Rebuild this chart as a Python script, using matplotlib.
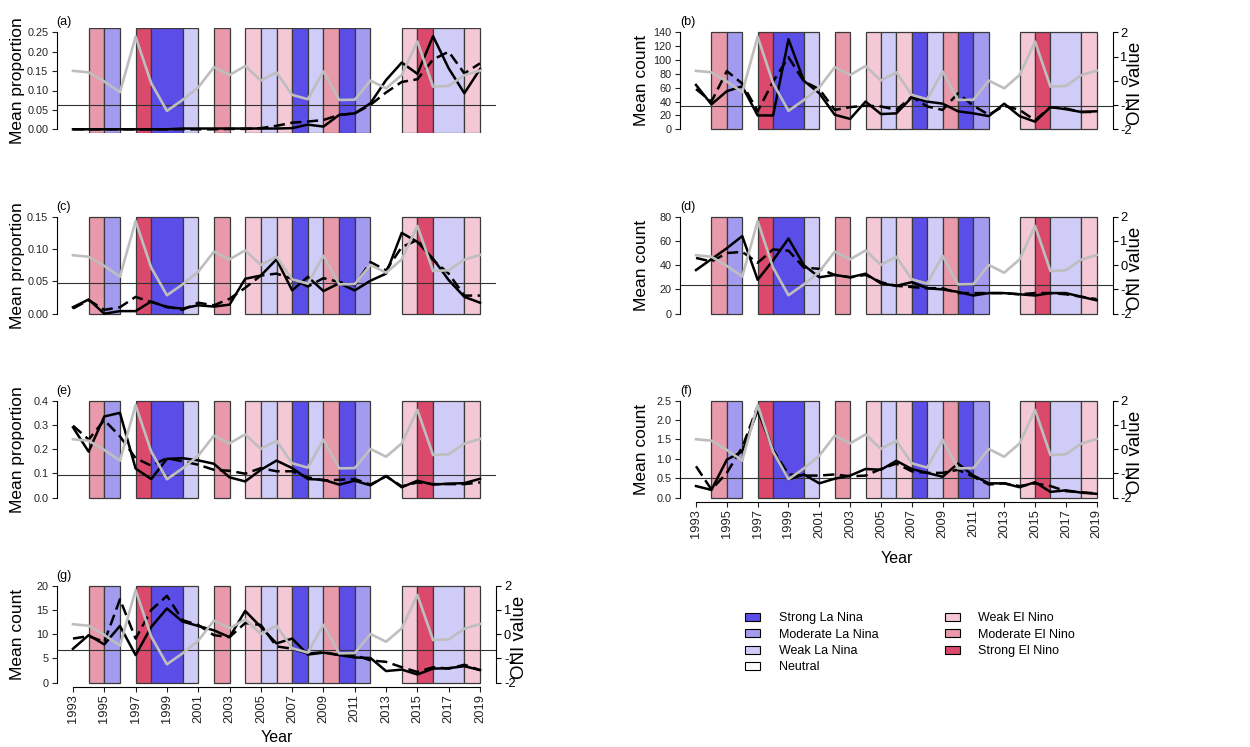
import numpy as np
import matplotlib
matplotlib.use("Agg")
from matplotlib import pyplot as plt
from matplotlib.patches import Patch

plt.rcParams['font.family'] = ['Liberation Sans', 'DejaVu Sans']

years = np.arange(1993, 2020)

# ENSO phase for each year, the band runs from year to year+1 (1993..2018)
enso_phase = ['Neutral', 'Moderate El Nino', 'Moderate La Nina', 'Neutral', 'Strong El Nino',
              'Strong La Nina', 'Strong La Nina', 'Weak La Nina', 'Neutral', 'Moderate El Nino',
              'Neutral', 'Weak El Nino', 'Weak La Nina', 'Weak El Nino', 'Strong La Nina',
              'Weak La Nina', 'Moderate El Nino', 'Strong La Nina', 'Moderate La Nina', 'Neutral',
              'Neutral', 'Weak El Nino', 'Strong El Nino', 'Weak La Nina', 'Weak La Nina',
              'Weak El Nino']

oni = [0.41, 0.35, -0.03, -0.47, 1.82, -0.10, -1.24, -0.79, -0.27, 0.56, 0.24, 0.61, 0.01,
       0.35, -0.58, -0.76, 0.39, -0.79, -0.78, 0.01, -0.31, 0.24, 1.62, -0.24, -0.21, 0.23, 0.42]

# (a) mean proportion
a_obs = [0.0, 0.0, 0.0, 0.0, 0.0, 0.0, 0.0, 0.002, 0.002, 0.002, 0.002, 0.002, 0.002, 0.002,
         0.003, 0.012, 0.007, 0.037, 0.041, 0.067, 0.127, 0.172, 0.143, 0.240, 0.157, 0.093, 0.155]
a_fit = [0.0, 0.0, 0.0, 0.0, 0.0, 0.0, 0.0, 0.0, 0.0, 0.0, 0.001, 0.001, 0.003, 0.009,
         0.017, 0.020, 0.024, 0.037, 0.041, 0.063, 0.095, 0.122, 0.129, 0.180, 0.200, 0.144, 0.170]
# (b) mean count
b_obs = [64, 36, 55, 62, 20, 20, 130, 70, 52, 21, 15, 40, 22, 23, 46, 40, 37, 26, 23, 19,
         37, 19, 11, 32, 29, 25, 26]
b_fit = [58, 40, 84, 66, 26, 69, 104, 69, 58, 28, 32, 34, 33, 28, 47, 33, 28, 52, 34, 21,
         34, 28, 13, 32, 30, 25, 25]
# (c) mean proportion
c_obs = [0.010, 0.022, 0.0, 0.004, 0.004, 0.019, 0.010, 0.008, 0.013, 0.011, 0.014, 0.054,
         0.059, 0.084, 0.036, 0.057, 0.035, 0.047, 0.036, 0.051, 0.062, 0.125, 0.111, 0.085,
         0.052, 0.026, 0.017]
c_fit = [0.008, 0.021, 0.006, 0.010, 0.026, 0.018, 0.011, 0.006, 0.017, 0.013, 0.023, 0.040,
         0.059, 0.062, 0.054, 0.042, 0.055, 0.049, 0.044, 0.080, 0.067, 0.103, 0.114, 0.083,
         0.062, 0.028, 0.028]
# (d) mean count
d_obs = [36, 45, 54, 64, 28, 44, 62, 40, 30, 32, 30, 33, 25, 23, 26, 21, 20, 18, 15, 17,
         17, 16, 15, 17, 17, 14, 11]
d_fit = [46, 43, 50, 51, 42, 53, 52, 38, 37, 32, 30, 32, 26, 23, 22, 21, 21, 17, 17, 17,
         17, 16, 17, 17, 16, 14, 12]
# (e) mean proportion
e_obs = [0.290, 0.190, 0.335, 0.350, 0.120, 0.077, 0.160, 0.163, 0.154, 0.140, 0.084, 0.067,
         0.115, 0.153, 0.122, 0.077, 0.074, 0.054, 0.070, 0.051, 0.090, 0.043, 0.070, 0.054,
         0.058, 0.060, 0.078]
e_fit = [0.297, 0.240, 0.320, 0.253, 0.163, 0.132, 0.163, 0.150, 0.136, 0.115, 0.111, 0.099,
         0.122, 0.109, 0.109, 0.084, 0.071, 0.074, 0.077, 0.054, 0.088, 0.047, 0.063, 0.056,
         0.056, 0.056, 0.063]
# (f) mean count
f_obs = [0.30, 0.20, 0.98, 1.19, 2.25, 1.23, 0.47, 0.60, 0.37, 0.49, 0.57, 0.74, 0.72, 0.95,
         0.74, 0.64, 0.54, 0.88, 0.57, 0.37, 0.37, 0.27, 0.40, 0.15, 0.19, 0.13, 0.10]
f_fit = [0.81, 0.21, 0.64, 1.30, 2.36, 1.23, 0.60, 0.57, 0.57, 0.60, 0.55, 0.57, 0.74, 0.88,
         0.68, 0.64, 0.64, 0.72, 0.54, 0.34, 0.37, 0.30, 0.37, 0.30, 0.17, 0.14, 0.11]
# (g) mean count
g_obs = [7.0, 9.8, 7.9, 11.7, 5.7, 11.5, 15.3, 12.6, 11.7, 10.8, 9.4, 14.8, 11.5, 8.1, 9.1,
         5.8, 6.2, 5.7, 5.2, 5.1, 2.4, 2.7, 1.7, 2.9, 3.0, 3.4, 2.6]
g_fit = [9.1, 9.6, 8.4, 17.2, 9.1, 15.0, 17.9, 12.9, 11.9, 9.8, 9.4, 12.3, 11.9, 7.5, 7.0,
         6.0, 6.3, 5.7, 5.7, 4.6, 4.3, 3.2, 2.2, 3.2, 2.9, 3.7, 2.6]

mean_lines = [0.062, 33, 0.048, 24, 0.093, 0.5, 6.7]
y_max = [0.25, 140, 0.15, 80, 0.4, 2.5, 20]
y_step = [0.05, 20, 0.05, 20, 0.1, 0.5, 5]

phase_order = ['Strong La Nina', 'Moderate La Nina', 'Weak La Nina', 'Neutral',
               'Weak El Nino', 'Moderate El Nino', 'Strong El Nino']
phase_colors = {'Strong La Nina': '#5B4DE8', 'Moderate La Nina': '#A39BF0',
                'Weak La Nina': '#D0CCF8', 'Neutral': 'white',
                'Weak El Nino': '#F4C8D4', 'Moderate El Nino': '#E899AA',
                'Strong El Nino': '#DB4A6C'}

W, H = 1250, 747
fig = plt.figure(figsize=(W / 100, H / 100), dpi=100)

# plot regions in pixels: left, top of ONI=+2, width
col_x = [(56.7, 439.6), (680.0, 432.7)]
row_top = [32.3, 216.7, 400.7, 585.7]
band_h = 97.0
xlim = (1993 - 1.04, 2019 + 1.04)
oni_lim = (-2.16, 2.16)


def enso_runs():
    runs = []
    start = 0
    for i in range(1, len(enso_phase) + 1):
        if i == len(enso_phase) or enso_phase[i] != enso_phase[start]:
            runs.append((years[start], i - start, enso_phase[start]))
            start = i
    return runs


def panel(idx, col, row, obs, fit, ylabel, fmt, right_axis, x_axis, full_bands=False):
    x0, w = col_x[col]
    top = row_top[row] - 0.04 * band_h
    h = band_h * 1.08
    rect = [x0 / W, 1 - (top + h) / H, w / W, h / H]

    ax_bg = fig.add_axes(rect)
    ax = fig.add_axes(rect)
    ax_oni = fig.add_axes(rect)
    for a in (ax, ax_oni):
        a.patch.set_visible(False)

    # ENSO bands
    for start, length, phase in enso_runs():
        if phase == 'Neutral':
            continue
        lo, hi = (oni_lim if full_bands else (-2, 2))
        ax_bg.bar(start, hi - lo, bottom=lo, width=length, align='edge',
                  color=phase_colors[phase], edgecolor='#3a3a3a', linewidth=0.9)
    ax_bg.set_xlim(xlim)
    ax_bg.set_ylim(oni_lim)
    ax_bg.axis('off')

    ymax = y_max[idx]
    ax.axhline(mean_lines[idx], color='#333333', lw=0.8)
    ax.plot(years, fit, color='black', lw=1.8, dashes=(4.5, 2.2))
    ax.plot(years, obs, color='black', lw=1.8)
    ax.set_xlim(xlim)
    ax.set_ylim(-0.04 * ymax, 1.04 * ymax)
    ticks = np.arange(0, ymax + y_step[idx] / 2, y_step[idx])
    ax.set_yticks(ticks)
    ax.set_yticklabels([fmt.format(t) for t in ticks])
    for s in ('top', 'right'):
        ax.spines[s].set_visible(False)
    ax.spines['left'].set_bounds(0, ymax)
    ax.spines['left'].set_linewidth(0.8)
    ax.tick_params(axis='y', direction='out', length=3.5, width=0.8, labelsize=7.8, pad=2.5,
                   colors='#222222')
    if x_axis:
        ax.set_xticks(np.arange(1993, 2020, 2))
        ax.tick_params(axis='x', direction='out', length=3.5, width=0.8, labelsize=9.3,
                       labelrotation=90, pad=2, colors='#222222')
        ax.spines['bottom'].set_bounds(1993, 2019)
        ax.spines['bottom'].set_linewidth(0.8)
        year_y = min(top + h + 57, H - 9)
        fig.text((x0 + w / 2) / W, 1 - year_y / H, 'Year', fontsize=11.5,
                 ha='center', va='center')
    else:
        ax.set_xticks([])
        ax.spines['bottom'].set_visible(False)

    ax_oni.plot(years, oni, color='#BEBEBE', lw=1.9)
    ax_oni.set_xlim(xlim)
    ax_oni.set_ylim(oni_lim)
    ax_oni.set_xticks([])
    for s in ('top', 'left', 'bottom'):
        ax_oni.spines[s].set_visible(False)
    if right_axis:
        ax_oni.yaxis.tick_right()
        ax_oni.set_yticks([-2, -1, 0, 1, 2])
        ax_oni.set_yticklabels(['-2', '-1', '0', '1', '2'])
        ax_oni.spines['right'].set_bounds(-2, 2)
        ax_oni.spines['right'].set_linewidth(0.8)
        ax_oni.tick_params(axis='y', direction='out', length=3.5, width=0.8, labelsize=9.3,
                           pad=2)
        fig.text((x0 + w + 23) / W, 1 - (top + h / 2 + 3) / H, 'ONI value', fontsize=13.5,
                 rotation=90, ha='center', va='center')
    else:
        ax_oni.set_yticks([])
        ax_oni.spines['right'].set_visible(False)

    fig.text((x0 - 39) / W, 1 - (top + h / 2) / H, ylabel, fontsize=12.5, rotation=90,
             ha='center', va='center')
    ax.text(0.0, 1.0, '(' + 'abcdefg'[idx] + ')', transform=ax.transAxes, fontsize=9,
            ha='left', va='bottom')


panel(0, 0, 0, a_obs, a_fit, 'Mean proportion', '{:.2f}', False, False, full_bands=True)
panel(1, 1, 0, b_obs, b_fit, 'Mean count', '{:.0f}', True, False)
panel(2, 0, 1, c_obs, c_fit, 'Mean proportion', '{:.2f}', False, False)
panel(3, 1, 1, d_obs, d_fit, 'Mean count', '{:.0f}', True, False)
panel(4, 0, 2, e_obs, e_fit, 'Mean proportion', '{:.1f}', False, False)
panel(5, 1, 2, f_obs, f_fit, 'Mean count', '{:.1f}', True, True)
panel(6, 0, 3, g_obs, g_fit, 'Mean count', '{:.0f}', True, True)

handles = [Patch(facecolor=phase_colors[p], edgecolor='black', linewidth=0.8)
           for p in phase_order]
fig.legend(handles, phase_order, loc='upper left', bbox_to_anchor=(745 / W, 1 - 612 / H),
           ncol=2, frameon=False, fontsize=9, handlelength=1.2, handleheight=0.6,
           handletextpad=1.5, columnspacing=5.3, labelspacing=0.36, borderaxespad=0,
           borderpad=0)

fig.savefig('out.png', dpi=100)
